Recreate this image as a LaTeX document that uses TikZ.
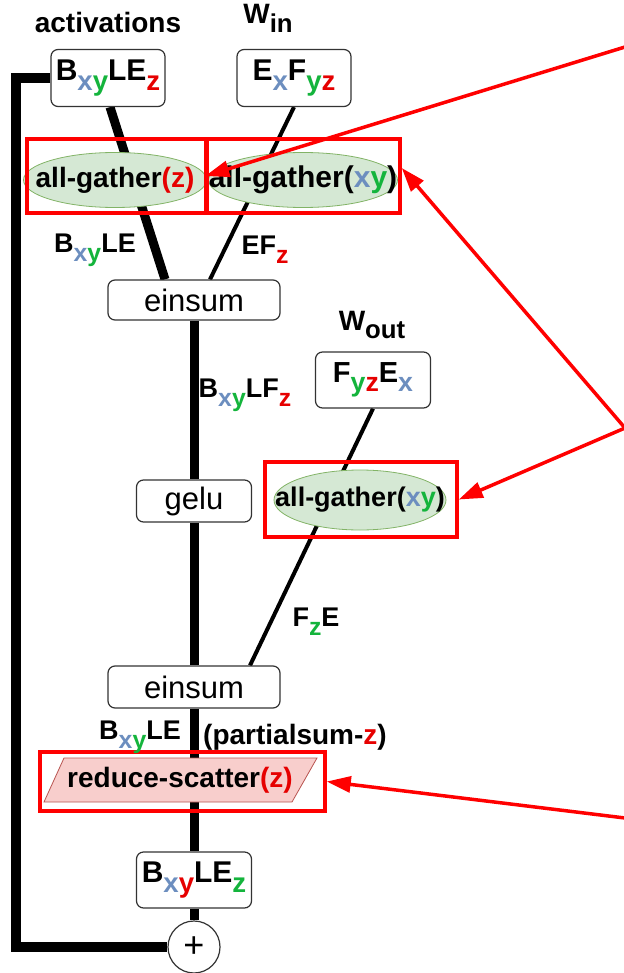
\documentclass[tikz,border=0pt]{standalone}
\usepackage{fontspec}
\setmainfont{Liberation Sans}
\usetikzlibrary{arrows.meta,shapes.geometric}
\definecolor{cx}{RGB}{108,142,191}
\definecolor{cy}{RGB}{20,180,60}
\definecolor{cz}{RGB}{230,0,0}
\definecolor{agfill}{RGB}{213,232,212}
\definecolor{agdraw}{RGB}{130,179,102}
\definecolor{rsfill}{RGB}{248,206,204}
\definecolor{rsdraw}{RGB}{184,84,80}
\newcommand\lo[1]{\raisebox{-0.32em}{\scalebox{0.92}{#1}}}
\newcommand\fs[1]{\fontsize{#1}{#1}\selectfont}
\begin{document}
\begin{tikzpicture}[x=1pt,y=-1pt,
  rbox/.style={draw=black!80,line width=1.2pt,rounded corners=7pt,fill=white,inner sep=0pt},
  agnode/.style={ellipse,draw=agdraw,line width=0.8pt,fill=agfill,inner sep=0pt},
  redbox/.style={draw=red,line width=3.5pt,inner sep=0pt},
  thickline/.style={line width=9pt},
  thinline/.style={line width=4pt},
  redarrow/.style={draw=red,line width=3.5pt,-{Triangle[length=24pt,width=16pt]}},
  lbl/.style={inner sep=0pt,font=\bfseries\fs{27}}]
\useasboundingbox (0,0) rectangle (623,973);
\pgfdeclarelayer{bg}\pgfsetlayers{bg,main}

% boxes
\node[rbox,minimum width=114,minimum height=57] (act) at (108,78) {\fs{30}\bfseries B\lo{\textcolor{cx}{x}\textcolor{cy}{y}}LE\lo{\textcolor{cz}{z}}};
\node[rbox,minimum width=114,minimum height=57] (win) at (294,78) {\fs{30}\bfseries E\lo{\textcolor{cx}{x}}F\lo{\textcolor{cy}{y}\textcolor{cz}{z}}};
\node[rbox,minimum width=172,minimum height=40] (ein1) at (194,300) {\fs{31}einsum};
\node[rbox,minimum width=115,minimum height=56] (wout) at (373,380) {\fs{29}\bfseries F\lo{\textcolor{cy}{y}\textcolor{cz}{z}}E\lo{\textcolor{cx}{x}}};
\node[rbox,minimum width=115,minimum height=42] (gelu) at (194,501) {\fs{31}gelu};
\node[rbox,minimum width=172,minimum height=42] (ein2) at (194,687) {\fs{31}einsum};
\node[rbox,minimum width=115,minimum height=56] (bot) at (194,880) {\fs{30}\bfseries B\lo{\textcolor{cx}{x}\textcolor{cz}{y}}LE\lo{\textcolor{cy}{z}}};
\node[circle,draw=black!80,line width=1.2pt,fill=white,minimum size=52,inner sep=0pt] (plus) at (194,947) {\fs{36}+};

% connectors (behind)
\begin{pgfonlayer}{bg}
\draw[thickline] ([xshift=2]act.south) -- ([xshift=-29]ein1.north);
\draw[thinline] (win.south) -- ([xshift=16]ein1.north);
\draw[thickline] (ein1.south) -- (gelu.north);
\draw[thickline] (gelu.south) -- (ein2.north);
\draw[thickline] (ein2.south) -- (bot.north);
\draw[thickline] (bot.south) -- (plus.north);
\draw[thinline] (wout.south) -- ([xshift=56]ein2.north);
\draw[line width=10pt] (act.west) -- ++(-34,0) |- (plus.west);
\end{pgfonlayer}

% all-gathers
\node[agnode,minimum width=183,minimum height=55] (ag1) at (115,180) {};
\node[inner sep=0pt] (t1) at (ag1.center) {\fs{28}\bfseries all-gather\textcolor{cz}{(z)}};
\node[agnode,minimum width=189,minimum height=55] (ag2) at (303,180) {};
\node[inner sep=0pt] (t2) at (ag2.center) {\fs{30}\bfseries all-gather(\textcolor{cx}{x}\textcolor{cy}{y})};
\node[agnode,minimum width=172,minimum height=60] (ag3) at (360,500) {};
\node[inner sep=0pt] (t3) at (ag3.center) {\fs{27}\bfseries all-gather(\textcolor{cx}{x}\textcolor{cy}{y})};

% reduce-scatter parallelogram
\draw[draw=rsdraw,line width=0.8pt,fill=rsfill] (44,802) -- (64,758) -- (317,758) -- (292,802) -- cycle;
\node[inner sep=0pt] (rs) at (180,780) {\fs{28}\bfseries reduce-scatter\textcolor{cz}{(z)}};

% red boxes
\node[redbox,minimum width=179,minimum height=74] (rb1) at (116.5,176) {};
\node[redbox,minimum width=193,minimum height=74] (rb2) at (303.5,176) {};
\node[redbox,minimum width=192,minimum height=75] (rb3) at (361,499.5) {};
\node[redbox,minimum width=285,minimum height=59] (rb4) at (182.5,781.5) {};

% labels
\node[lbl,font=\bfseries\fs{28}] (lact) at (108,22) {activations};
\node[lbl,font=\bfseries\fs{28}] (lwin) at (268,18) {W\lo{in}};
\node[lbl] (l1) at (95,250) {B\lo{\textcolor{cx}{x}\textcolor{cy}{y}}LE};
\node[lbl] (l2) at (265,250) {EF\lo{\textcolor{cz}{z}}};
\node[lbl,font=\bfseries\fs{28}] (lwout) at (372,325) {W\lo{out}};
\node[lbl] (l3) at (245,395) {B\lo{\textcolor{cx}{x}\textcolor{cy}{y}}LF\lo{\textcolor{cz}{z}}};
\node[lbl] (l4) at (316,622) {F\lo{\textcolor{cy}{z}}E};
\node[lbl] (l5) at (140,737) {B\lo{\textcolor{cx}{x}\textcolor{cy}{y}}LE};
\node[lbl,font=\bfseries\fs{28}] (l6) at (295,737) {(partialsum-\textcolor{cz}{z})};

% red arrows
\coordinate (a1) at (625,47);
\coordinate (a2) at (625,428);
\coordinate (a3) at (625,818);
\draw[redarrow] (a1) -- (rb2.west);
\draw[redarrow] (a2) -- ([yshift=8]rb2.east);
\draw[redarrow] (a2) -- (rb3.east);
\draw[redarrow] (a3) -- (rb4.east);
\end{tikzpicture}
\end{document}
